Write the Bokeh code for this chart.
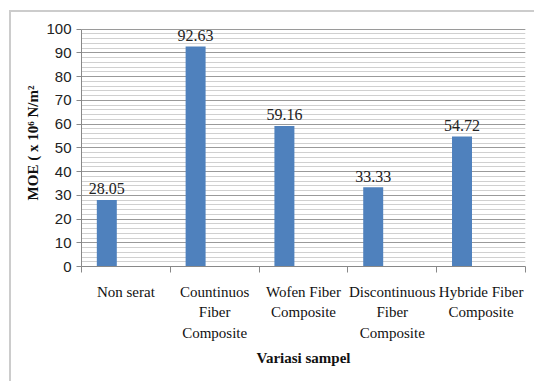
from bokeh.plotting import figure
from bokeh.models import ColumnDataSource, FixedTicker, Range1d
from bokeh.transform import dodge
from bokeh.core.properties import value
from bokeh.embed import file_html
from bokeh.resources import INLINE

categories = ["Non serat", "Countinuos Fiber Composite", "Wofen Fiber Composite",
              "Discontinuous Fiber Composite", "Hybride Fiber Composite"]
tick_labels = ["Non serat", "Countinuos\nFiber\nComposite", "Wofen Fiber\nComposite",
               "Discontinuous\nFiber\nComposite", "Hybride Fiber\nComposite"]
moe_values = [28.05, 92.63, 59.16, 33.33, 54.72]
value_labels = ["28.05", "92.63", "59.16", "33.33", "54.72"]
y_ticks = list(range(0, 101, 10))
y_minor = list(range(0, 101, 2))

pos = [i + 0.5 for i in range(len(categories))]
src = ColumnDataSource(dict(x=pos, top=moe_values, lab=value_labels))

p = figure(width=525, height=371, output_backend="svg", toolbar_location=None,
           x_range=Range1d(0, len(categories)), y_range=Range1d(0, 104),
           min_border_left=70, min_border_right=11, min_border_top=7, min_border_bottom=117)
p.margin = (10, 0, 0, 9)
p.styles = {"border-left": "2px solid #cccccc", "border-top": "2px solid #cccccc"}
p.outline_line_color = None
p.background_fill_color = "white"
p.border_fill_color = "white"

p.vbar(x=dodge("x", -0.215, range=p.x_range), top="top", width=0.225, bottom=0,
       source=src, fill_color="#4F81BD", line_color=None)
p.text(x=dodge("x", -0.215, range=p.x_range), y="top", text="lab", source=src,
       text_align="center", text_baseline="alphabetic", y_offset=-11,
       text_font=value("Times New Roman"), text_font_size="16px", text_color="#222222")

# x axis
p.xaxis.ticker = FixedTicker(ticks=pos, minor_ticks=list(range(len(categories) + 1)))
p.xaxis.major_label_overrides = {pos[i]: tick_labels[i] for i in range(len(categories))}
p.xaxis.major_tick_out = 0
p.xaxis.major_tick_in = 0
p.xaxis.minor_tick_out = 6
p.xaxis.minor_tick_in = 0
p.xaxis.minor_tick_line_color = "#888888"
p.xaxis.axis_line_color = "#888888"
p.xaxis.major_label_text_font = "Liberation Serif"
p.xaxis.major_label_text_font_size = "15px"
p.xaxis.major_label_text_line_height = 1.3
p.xaxis.major_label_text_color = "#111111"
p.xaxis.major_label_standoff = 11
p.xaxis.axis_label = "Variasi sampel"
p.xaxis.axis_label_text_font = "Liberation Serif"
p.xaxis.axis_label_text_font_style = "bold"
p.xaxis.axis_label_text_font_size = "15px"
p.xaxis.axis_label_text_color = "#111111"
p.xaxis.axis_label_standoff = 6

# y axis
p.yaxis.ticker = FixedTicker(ticks=y_ticks, minor_ticks=y_minor)
p.yaxis.bounds = (0, 100)
p.yaxis.major_tick_out = 5
p.yaxis.major_tick_in = 0
p.yaxis.minor_tick_out = 0
p.yaxis.minor_tick_in = 0
p.yaxis.major_tick_line_color = "#888888"
p.yaxis.axis_line_color = "#888888"
p.yaxis.major_label_text_font = "Liberation Sans"
p.yaxis.major_label_text_font_size = "15px"
p.yaxis.major_label_text_color = "#222222"
p.yaxis.axis_label = "MOE ( x 10⁶ N/m²"
p.yaxis.axis_label_text_font = "Liberation Serif"
p.yaxis.axis_label_text_font_style = "bold"
p.yaxis.axis_label_text_font_size = "15px"
p.yaxis.axis_label_text_color = "#111111"
p.yaxis.axis_label_standoff = 2

p.xgrid.grid_line_color = None
p.ygrid.grid_line_color = "#9a9a9a"
p.ygrid.grid_line_width = 1
p.ygrid.minor_grid_line_color = "#d0d0d0"
p.ygrid.minor_grid_line_width = 1

open("out.html", "w").write(file_html(p, INLINE))
